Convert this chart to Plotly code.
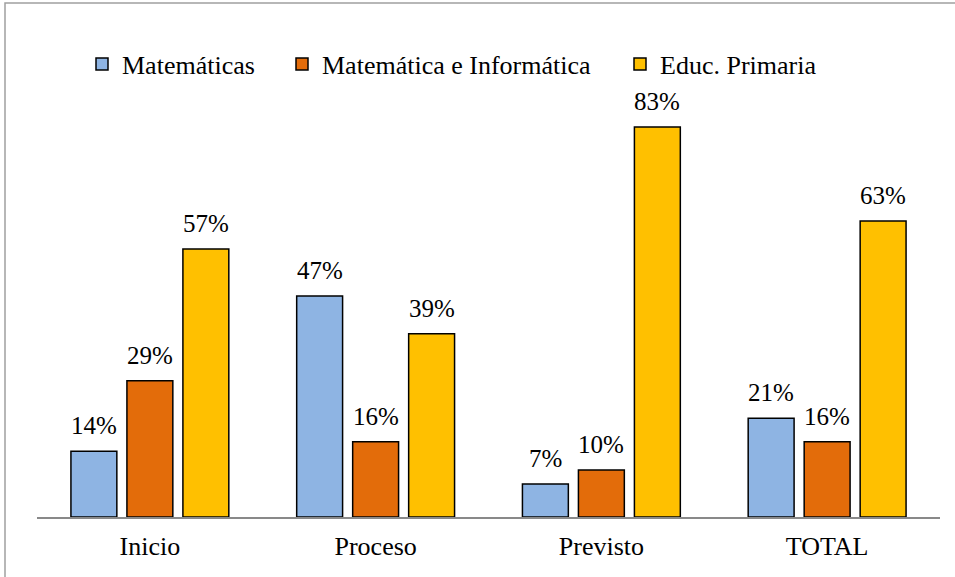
import plotly.graph_objects as go

categories = ["Inicio", "Proceso", "Previsto", "TOTAL"]
series_names = ["Matemáticas", "Matemática e Informática", "Educ. Primaria"]
matematicas = [0.14, 0.47, 0.07, 0.21]
mat_informatica = [0.29, 0.16, 0.10, 0.16]
educ_primaria = [0.57, 0.39, 0.83, 0.63]
colors = ["#8EB4E3", "#E36C0A", "#FFC000"]

W, H = 955, 577
ML, MR, MT, MB = 37, 15, 94, 60
FONT = "Liberation Serif"
BARGAP, GROUPGAP = 0.256, 0.18

pw = W - ML - MR
ph = H - MT - MB
slot = pw / len(categories) * (1 - BARGAP) / len(series_names)

legend_names = ["legend", "legend2", "legend3"]
legend_left_px = [82, 282, 620]

fig = go.Figure()
series = [matematicas, mat_informatica, educ_primaria]
for i, (name, vals, col) in enumerate(zip(series_names, series, colors)):
    fig.add_trace(go.Bar(
        x=categories, y=vals, name=name, legend=legend_names[i],
        marker=dict(color=col, line=dict(color="black", width=1.5)),
    ))
    for c, v in zip(categories, vals):
        fig.add_annotation(x=c, y=v, text=f"{round(v*100)}%", showarrow=False,
                           xanchor="center", yanchor="bottom",
                           xshift=(i - (len(series_names) - 1) / 2) * slot, yshift=10,
                           font=dict(family=FONT, size=25, color="black"))

fig.add_shape(type="rect", xref="paper", yref="paper",
              x0=(5 - ML) / pw, x1=(W + 10 - ML) / pw,
              y0=-(H + 10 - (H - MB)) / ph, y1=((H - MB) - 3) / ph,
              line=dict(color="#A0A0A0", width=1.5), fillcolor="rgba(0,0,0,0)", layer="below")

legend_common = dict(orientation="h", xanchor="left", yanchor="middle",
                     y=((H - MB) - 64) / ph,
                     font=dict(family=FONT, size=26, color="black"), itemwidth=30,
                     bgcolor="rgba(0,0,0,0)", borderwidth=0)
legends = {}
for ln, lx in zip(legend_names, legend_left_px):
    legends[ln] = dict(legend_common, x=(lx - ML) / pw)

fig.update_layout(
    width=W, height=H,
    margin=dict(l=ML, r=MR, t=MT, b=MB),
    paper_bgcolor="white", plot_bgcolor="white",
    barmode="group", bargap=BARGAP, bargroupgap=GROUPGAP,
    font=dict(family=FONT, size=26, color="black"),
    showlegend=True,
    xaxis=dict(showline=True, linecolor="#898989", linewidth=2, ticks="", showgrid=False,
               ticklabelstandoff=5,
               tickfont=dict(family=FONT, size=26, color="black")),
    yaxis=dict(range=[0, 0.9], visible=False, showgrid=False, zeroline=False),
    **legends,
)

fig.write_html("out.html", post_script="document.body.style.margin='0';",
               config={"displayModeBar": False})
